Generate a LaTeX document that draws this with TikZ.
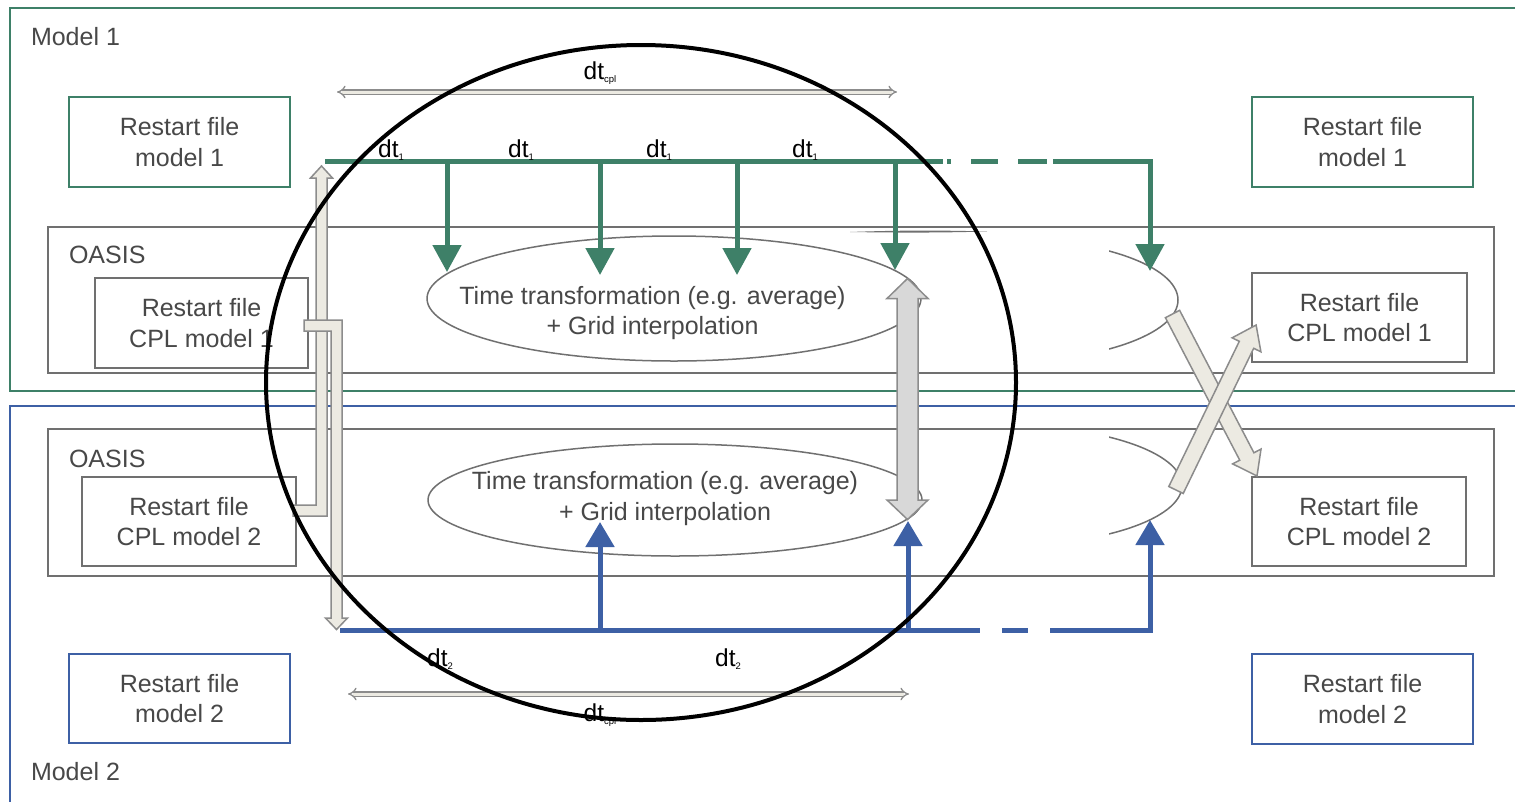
\documentclass[tikz,border=0pt]{standalone}
\usepackage{fontspec}
\setmainfont{Liberation Sans}
\usetikzlibrary{arrows.meta,shapes.geometric}

\definecolor{mgreen}{RGB}{62,128,104}
\definecolor{mblue}{RGB}{61,96,165}
\definecolor{boxgray}{RGB}{112,112,112}
\definecolor{txtgray}{RGB}{72,72,72}
\definecolor{beige}{RGB}{236,234,226}
\definecolor{arrgray}{RGB}{140,140,140}
\definecolor{midgray}{RGB}{216,216,216}

% small lowered index for the time-step labels
\newcommand{\lowsub}[1]{\raisebox{-3pt}{\fontsize{9.5}{9.5}\selectfont #1}}

% block arrow along a direction: start point, angle, length
\newcommand{\slantarrow}[3]{%
  \draw[hollow, shift={#1}, rotate=#2]
    (0,-8) -- ({#3-22},-8) -- ({#3-22},-16) -- (#3,0) -- ({#3-22},16)
    -- ({#3-22},8) -- (0,8) -- cycle;}

\tikzset{
  every node/.style={font=\fontsize{25}{30.5}\selectfont, text=txtgray, inner sep=0pt, outer sep=0pt},
  frame/.style={draw, line width=2pt, anchor=north west},
  greenbox/.style={draw=mgreen, line width=2pt, align=center},
  bluebox/.style={draw=mblue, line width=2pt, align=center},
  graybox/.style={draw=boxgray, line width=1.8pt, align=center},
  procell/.style={ellipse, draw=boxgray, line width=1.5pt},
  dtlabel/.style={font=\fontsize{24.5}{24.5}\selectfont, text=black, anchor=base},
  cplarrow/.style={draw=arrgray, line width=1.3pt, double=beige, double distance=3pt, arrows={Implies-Implies}},
  gline/.style={draw=mgreen, line width=5pt},
  garrow/.style={gline, -{Triangle[width=28pt,length=27pt]}},
  bline/.style={draw=mblue, line width=5pt},
  barrow/.style={bline, -{Triangle[width=28pt,length=25pt]}},
  hollow/.style={draw=arrgray, fill=beige, line width=1.5pt, line join=miter},
  midarrow/.style={draw=arrgray, fill=midgray, line width=1.5pt, line join=miter},
  bigring/.style={draw=black, line width=4pt},
}

\begin{document}
\begin{tikzpicture}[x=1pt,y=-1pt]
\useasboundingbox (0,0) rectangle (1515,801);
\clip (0,0) rectangle (1515,801);
\fill[white] (0,0) rectangle (1515,801);

% ---------- model frames ----------
\node[frame, draw=mgreen, minimum width=1530pt, minimum height=383pt] (model1) at (9.5,7.5) {};
\node[frame, draw=mblue, minimum width=1530pt, minimum height=420pt] (model2) at (9.5,405.5) {};
\node[anchor=base west] (m1lbl) at (31,45) {Model 1};
\node[anchor=base west] (m2lbl) at (31,780) {Model 2};

% ---------- OASIS layers ----------
\node[frame, draw=boxgray, line width=1.8pt, minimum width=1446pt, minimum height=146pt] (oasis1) at (48,227) {};
\node[frame, draw=boxgray, line width=1.8pt, minimum width=1446pt, minimum height=147pt] (oasis2) at (48,429) {};
\node[anchor=base west] (oas1lbl) at (69,263) {OASIS};
\node[anchor=base west] (oas2lbl) at (69,467) {OASIS};

% ---------- restart files ----------
\node[greenbox, minimum width=221pt, minimum height=90pt] (rf1L) at (179.5,142) {Restart file\\model 1};
\node[greenbox, minimum width=221pt, minimum height=90pt] (rf1R) at (1362.5,142) {Restart file\\model 1};
\node[graybox, minimum width=213pt, minimum height=90pt] (cpl1L) at (201.5,323) {Restart file\\CPL model 1};
\node[graybox, minimum width=215pt, minimum height=89pt] (cpl1R) at (1359.5,317.5) {Restart file\\CPL model 1};
\node[graybox, minimum width=214pt, minimum height=89pt] (cpl2L) at (189,521.5) {Restart file\\CPL model 2};
\node[graybox, minimum width=214pt, minimum height=89pt] (cpl2R) at (1359,521.5) {Restart file\\CPL model 2};
\node[bluebox, minimum width=221pt, minimum height=89pt] (rf2L) at (179.5,698.5) {Restart file\\model 2};
\node[bluebox, minimum width=221pt, minimum height=90pt] (rf2R) at (1362.5,699) {Restart file\\model 2};

% ---------- transformation steps ----------
\node[procell, minimum width=494pt, minimum height=125pt] (tt1) at (674,298.5) {};
\node[procell, minimum width=494pt, minimum height=112pt] (tt2) at (675,500) {};
\node[align=center] (tt1txt) at (652.5,313) {Time transformation (e.g. average)\\+ Grid interpolation};
\node[align=center] (tt2txt) at (665,498.5) {Time transformation (e.g. average)\\+ Grid interpolation};

% next coupling steps, only partly shown
\begin{scope}
  \clip (1109,200) rectangle (1250,400);
  \draw[boxgray, line width=1.5pt] (1000,300) ellipse [x radius=178pt, y radius=62pt];
\end{scope}
\begin{scope}
  \clip (1109,420) rectangle (1250,570);
  \draw[boxgray, line width=1.5pt] (1004,485.5) ellipse [x radius=178pt, y radius=60pt];
\end{scope}
\fill[boxgray] (850,232) .. controls (900,230.2) and (940,230.2) .. (987,231.5)
  .. controls (940,232.8) and (900,232.8) .. (850,232) -- cycle;

% ---------- coupling period ----------
\coordinate (cplTa) at (337,92);
\coordinate (cplTb) at (897,92);
\coordinate (cplBa) at (348,694);
\coordinate (cplBb) at (909,694);
\draw[cplarrow] (cplTa) -- (cplTb);
\draw[cplarrow] (cplBa) -- (cplBb);
\node[dtlabel] (dtcplT) at (600,79) {dt\lowsub{cpl}};
\node[dtlabel] (dtcplB) at (600,721) {dt\lowsub{cpl}};

% ---------- model 1 time line ----------
\coordinate (g0) at (325,161.5);
\coordinate (g1) at (943,161.5);
\coordinate (g2) at (947,161.5);
\coordinate (g3) at (951,161.5);
\coordinate (g4) at (971,161.5);
\coordinate (g5) at (998,161.5);
\coordinate (g6) at (1018,161.5);
\coordinate (g7) at (1047,161.5);
\coordinate (g8) at (1053,161.5);
\coordinate (gc) at (1150,161.5);
\draw[gline] (g0) -- (g1);
\draw[gline] (g2) -- (g3);
\draw[gline] (g4) -- (g5);
\draw[gline] (g6) -- (g7);
\draw[garrow] (g8) -- (gc) -- ++(0,109.5) coordinate (gtip5);
\draw[garrow] (447,161.5) -- ++(0,110.5) coordinate (gtip1);
\draw[garrow] (600,161.5) -- ++(0,113.5) coordinate (gtip2);
\draw[garrow] (737,161.5) -- ++(0,113.5) coordinate (gtip3);
\draw[garrow] (895,161.5) -- ++(0,108.5) coordinate (gtip4);
\node[dtlabel] (dt1a) at (391,157) {dt\lowsub{1}};
\node[dtlabel] (dt1b) at (521,157) {dt\lowsub{1}};
\node[dtlabel] (dt1c) at (659,157) {dt\lowsub{1}};
\node[dtlabel] (dt1d) at (805,157) {dt\lowsub{1}};

% ---------- model 2 time line ----------
\coordinate (b0) at (340,630);
\coordinate (b1) at (980,630);
\coordinate (b2) at (1002,630);
\coordinate (b3) at (1028,630);
\coordinate (b4) at (1050,630);
\coordinate (bc) at (1150,630);
\draw[bline] (b0) -- (b1);
\draw[bline] (b2) -- (b3);
\draw[barrow] (b4) -- (bc) -- ++(0,-110) coordinate (btip3);
\draw[barrow] (600,630) -- ++(0,-108) coordinate (btip1);
\draw[barrow] (908,630) -- ++(0,-109) coordinate (btip2);
\node[dtlabel] (dt2a) at (440,666) {dt\lowsub{2}};
\node[dtlabel] (dt2b) at (728,666) {dt\lowsub{2}};

% ---------- exchange between the two transformations ----------
\draw[midarrow] (897,298.5) -- (887,298.5) -- (907.5,278.5) -- (928,298.5) -- (918,298.5)
  -- (918,500) -- (928,500) -- (907.5,519.5) -- (887,500) -- (897,500) -- cycle;

% ---------- restart files read at start ----------
\draw[hollow] (293,505) -- (316,505) -- (316,178) -- (310.5,178) -- (321.5,166)
  -- (332.5,178) -- (327,178) -- (327,516) -- (293,516) -- cycle;
\draw[hollow] (304,320) -- (342,320) -- (342,618) -- (347.5,618) -- (336.5,629.5)
  -- (325.5,618) -- (331,618) -- (331,331) -- (304,331) -- cycle;

% ---------- restart files written at end ----------
\slantarrow{(1172.5,314)}{-62.45}{182.7}
\slantarrow{(1176,490)}{64.1}{183.4}

% ---------- highlighted coupling period ----------
\draw[bigring] (641,382.5) ellipse [x radius=375pt, y radius=337.5pt];
\end{tikzpicture}
\end{document}
